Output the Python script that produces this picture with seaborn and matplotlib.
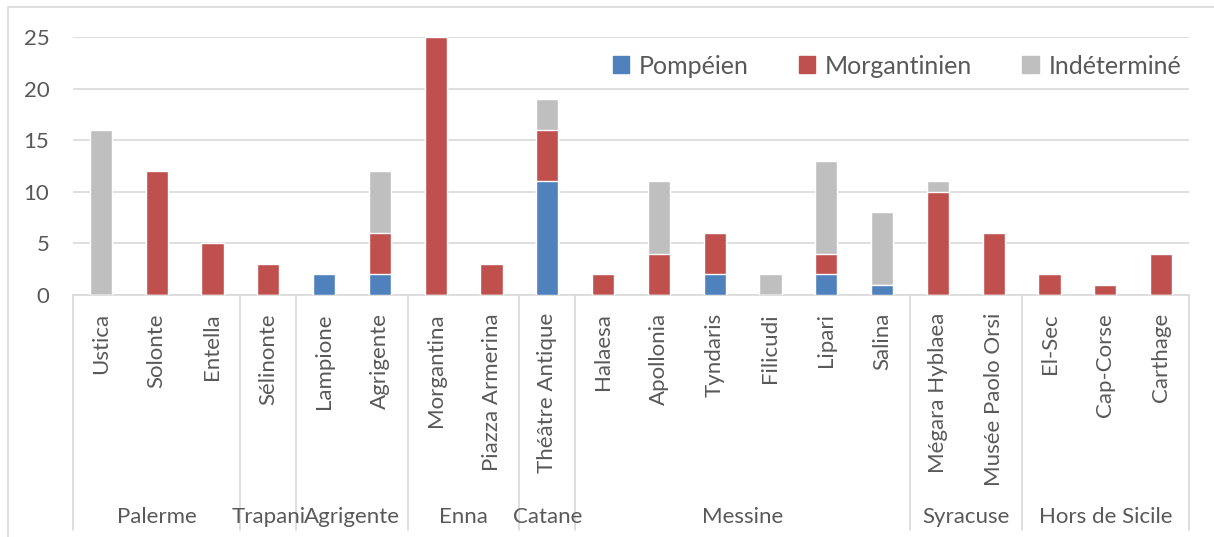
import matplotlib
matplotlib.use("Agg")
import matplotlib.pyplot as plt
import matplotlib.transforms as mtransforms
from matplotlib.patches import Patch, Rectangle
from matplotlib.lines import Line2D
import numpy as np
import pandas as pd
import seaborn as sns

sites = ["Ustica", "Solonte", "Entella", "Sélinonte", "Lampione", "Agrigente",
         "Morgantina", "Piazza Armerina", "Théâtre Antique", "Halaesa", "Apollonia",
         "Tyndaris", "Filicudi", "Lipari", "Salina", "Mégara Hyblaea",
         "Musée Paolo Orsi", "El-Sec", "Cap-Corse", "Carthage"]
pompeien = [0, 0, 0, 0, 2, 2, 0, 0, 11, 0, 0, 2, 0, 2, 1, 0, 0, 0, 0, 0]
morgantinien = [0, 12, 5, 3, 0, 4, 25, 3, 5, 2, 4, 4, 0, 2, 0, 10, 6, 2, 1, 4]
indetermine = [16, 0, 0, 0, 0, 6, 0, 0, 3, 0, 7, 0, 2, 9, 7, 1, 0, 0, 0, 0]
regions = ["Palerme", "Trapani", "Agrigente", "Enna", "Catane", "Messine",
           "Syracuse", "Hors de Sicile"]
region_sizes = [3, 1, 2, 2, 1, 6, 2, 3]

C_BLUE = "#4F81BD"
C_RED = "#C0504D"
C_GRAY = "#BFBFBF"
TXT = "#595959"
GRID = "#D9D9D9"

df = pd.DataFrame({"site": sites, "P": pompeien, "M": morgantinien, "I": indetermine})
df["PM"] = df["P"] + df["M"]
df["total"] = df["PM"] + df["I"]

sns.set_theme(style="white")
plt.rcParams["font.family"] = ["Lato", "DejaVu Sans"]

W, H = 1214, 537
fig = plt.figure(figsize=(W / 100, H / 100), dpi=100)
ax = fig.add_axes([73 / W, 1 - 295 / H, (1189 - 73) / W, (295 - 37) / H])

# stacked bars: draw cumulative totals from the top layer down
for col, c in [("total", C_GRAY), ("PM", C_RED), ("P", C_BLUE)]:
    sns.barplot(data=df, x="site", y=col, order=sites, color=c, saturation=1,
                width=0.4, errorbar=None, ax=ax, zorder=3)

ax.set_xlim(-0.5, len(sites) - 0.5)
ax.set_ylim(0, 25)
ax.set_yticks(range(0, 26, 5))
ax.grid(axis="y", color=GRID, linewidth=1.2, zorder=0)
ax.grid(axis="x", visible=False)
for s in ["top", "right", "left"]:
    ax.spines[s].set_visible(False)
ax.spines["bottom"].set_color(GRID)
ax.spines["bottom"].set_linewidth(1.2)
ax.set_xlabel("")
ax.set_ylabel("")
ax.tick_params(axis="y", length=0, pad=17, labelsize=16, labelcolor=TXT)
ax.tick_params(axis="x", length=0, pad=13, labelsize=16, labelcolor=TXT)
plt.setp(ax.get_xticklabels(), rotation=90, va="top", ha="center")
for lbl in ax.get_yticklabels():
    lbl.set_horizontalalignment("right")

# region separators and labels under the site names
trans = mtransforms.blended_transform_factory(ax.transData, fig.transFigure)
y_top = 1 - 295 / H
y_bot = 1 - 530 / H
edges = np.concatenate([[0], np.cumsum(region_sizes)]) - 0.5
for e in edges:
    fig.add_artist(Line2D([e, e], [y_top, y_bot], transform=trans, color=GRID,
                          linewidth=1.2, clip_on=False))
for name, a, b in zip(regions, edges[:-1], edges[1:]):
    fig.text((a + b) / 2, 1 - 517 / H, name, transform=trans, ha="center",
             va="center", fontsize=16, color=TXT)

handles = [Patch(color=C_BLUE, label="Pompéien"),
           Patch(color=C_RED, label="Morgantinien"),
           Patch(color=C_GRAY, label="Indéterminé")]
fig.legend(handles=handles, loc="center", bbox_to_anchor=(897 / W, 1 - 66 / H),
           ncol=3, frameon=False, fontsize=18, labelcolor=TXT, handlelength=0.65,
           handleheight=0.65, handletextpad=0.4, columnspacing=2.0)

fig.add_artist(Rectangle((8 / W, -0.1), 1.2, 1.1 - 7 / H, transform=fig.transFigure,
                         fill=False, edgecolor=GRID, linewidth=1.2))

fig.savefig("out.png", dpi=100)
